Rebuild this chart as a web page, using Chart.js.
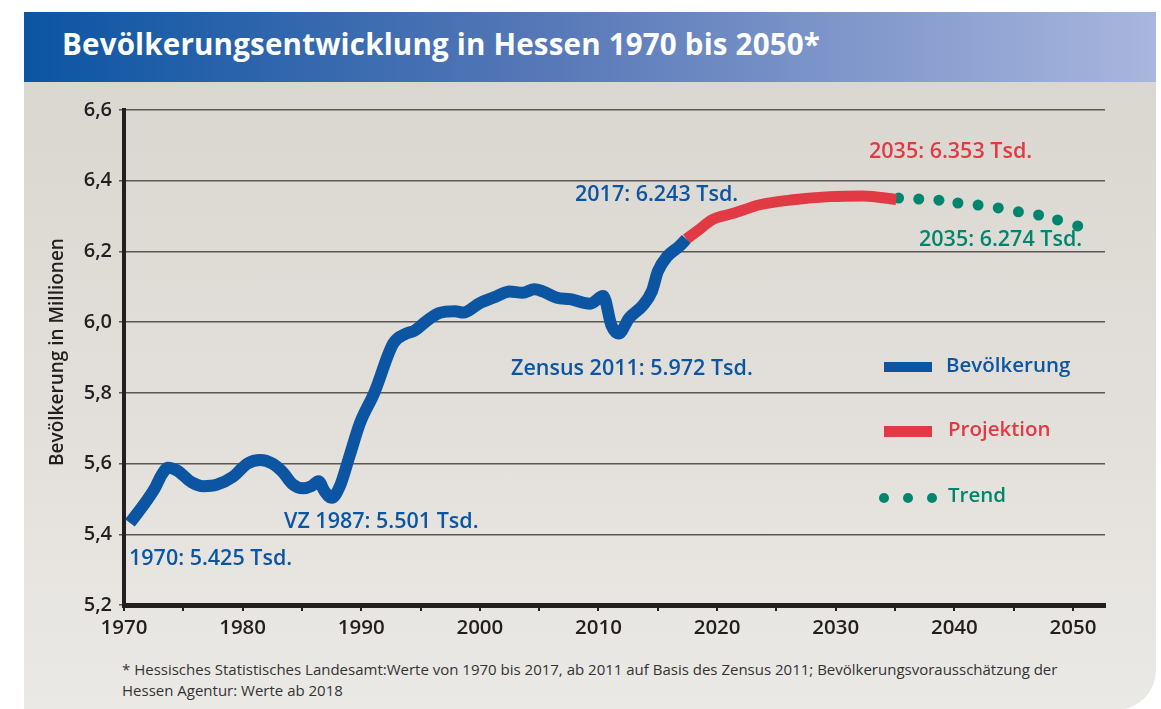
<!DOCTYPE html>
<html lang="de">
<head>
<meta charset="UTF-8">
<title>Bevölkerungsentwicklung in Hessen 1970 bis 2050</title>
<script src="https://cdn.jsdelivr.net/npm/chart.js"></script>
<style>
  html, body { margin: 0; padding: 0; background: #fff; }
  body { width: 1161px; height: 709px; position: relative; overflow: hidden; font-family: "Open Sans", sans-serif; }
  .panel {
    position: absolute; left: 24px; top: 82px; width: 1132px; height: 628px;
    background: linear-gradient(to bottom, #dad6d0 0%, #e4e1dc 60%, #ebe9e6 100%);
    border-bottom-right-radius: 40px;
  }
  .banner {
    position: absolute; left: 24px; top: 12px; width: 1132px; height: 70px;
    background: linear-gradient(to right, #0b55a3 0%, #5577b7 45%, #a9b6de 100%);
  }
  .banner h1 {
    margin: 0; position: absolute; left: 38px; top: 11px;
    color: #fff; font-size: 29.5px; font-weight: 700; letter-spacing: 0.2px;
  }
  .note {
    position: absolute; left: 122px; top: 659px; width: 1000px;
    font-size: 15px; line-height: 21px; color: #333;
  }
  #wrap { position: absolute; left: 0; top: 0; width: 1161px; height: 709px; }
</style>
</head>
<body>
<div class="panel"></div>
<div class="banner"><h1>Bevölkerungsentwicklung in Hessen 1970 bis 2050*</h1></div>
<div class="note">* Hessisches Statistisches Landesamt:Werte von 1970 bis 2017, ab 2011 auf Basis des Zensus 2011; Bevölkerungsvorausschätzung der<br>Hessen Agentur: Werte ab 2018</div>
<div id="wrap"><canvas id="chart" width="1161" height="709"></canvas></div>

<script>
// Bevölkerung (Mio.)
var popYears = [1970.5, 1971.8, 1972.6, 1973.2, 1973.7, 1974.5, 1975.7, 1976.7, 1977.8, 1979.2,
  1980.4, 1981.5, 1982.5, 1983.4, 1984.2, 1985.1, 1985.8, 1986.4, 1986.9, 1987.5,
  1988.2, 1989.0, 1989.9, 1991.1, 1992.7, 1993.8, 1994.5, 1995.5, 1996.6, 1997.9,
  1998.6, 2000.0, 2001.4, 2002.5, 2003.6, 2004.6, 2005.3, 2006.5, 2007.6, 2009.3,
  2010.4, 2011.1, 2011.7, 2012.6, 2013.7, 2014.5, 2015.0, 2015.8, 2016.8, 2017.4];
var popValues = [5.432, 5.49, 5.53, 5.57, 5.588, 5.58, 5.547, 5.536, 5.54, 5.563,
  5.60, 5.61, 5.60, 5.575, 5.542, 5.53, 5.536, 5.55, 5.522, 5.503,
  5.536, 5.62, 5.715, 5.80, 5.94, 5.968, 5.976, 6.003, 6.026, 6.031,
  6.027, 6.054, 6.073, 6.087, 6.083, 6.093, 6.087, 6.069, 6.065, 6.052,
  6.074, 5.99, 5.968, 6.012, 6.046, 6.087, 6.143, 6.186, 6.214, 6.235];

// Projektion
var projYears = [2017.4, 2018.3, 2019.6, 2021.3, 2023.6, 2026.4, 2029.5, 2032.3, 2035.1];
var projValues = [6.235, 6.257, 6.29, 6.307, 6.332, 6.346, 6.355, 6.357, 6.347];

// Trend
var trendYears = [2035.3, 2037.0, 2038.7, 2040.3, 2042.0, 2043.7, 2045.4, 2047.1, 2048.7, 2050.4];
var trendValues = [6.351, 6.348, 6.345, 6.337, 6.331, 6.323, 6.312, 6.303, 6.289, 6.272];

var yTicks = [5.2, 5.4, 5.6, 5.8, 6.0, 6.2, 6.4, 6.6];

var BLUE = '#0b55a3', RED = '#e23a44', GREEN = '#00866e', DARK = '#231f20';
var FONT = '"Open Sans", sans-serif';

function pairs(xs, ys) {
  return xs.map(function (x, i) { return { x: x, y: ys[i] }; });
}

// labels, axis title and the legend box inside the plot
var notes = {
  id: 'notes',
  afterDatasetsDraw: function (chart) {
    var c = chart.ctx;
    c.save();
    c.textBaseline = 'middle';
    function t(s, x, y, col) { c.fillStyle = col; c.fillText(s, x, y); }
    c.font = '600 21.5px ' + FONT;
    t('1970: 5.425 Tsd.', 129, 559, BLUE);
    t('VZ 1987: 5.501 Tsd.', 284, 522, BLUE);
    t('Zensus 2011: 5.972 Tsd.', 511, 369, BLUE);
    t('2017: 6.243 Tsd.', 575, 195, BLUE);
    t('2035: 6.353 Tsd.', 869, 152, RED);
    t('2035: 6.274 Tsd.', 919, 240, GREEN);

    // legend
    c.font = '600 20.5px ' + FONT;
    c.fillStyle = BLUE; c.fillRect(884, 362, 48, 10);
    c.fillStyle = RED; c.fillRect(884, 426, 48, 11);
    c.fillStyle = GREEN;
    [884, 908, 932].forEach(function (x) {
      c.beginPath(); c.arc(x, 498, 5, 0, Math.PI * 2); c.fill();
    });
    t('Bevölkerung', 946, 366, BLUE);
    t('Projektion', 948, 430, RED);
    t('Trend', 948, 496, GREEN);

    // y axis title
    c.translate(58, 352);
    c.rotate(-Math.PI / 2);
    c.textAlign = 'center';
    c.font = '600 19px ' + FONT;
    t('Bevölkerung in Millionen', 0, 0, DARK);
    c.restore();
  }
};

var ctx = document.getElementById('chart').getContext('2d');
var myChart = new Chart(ctx, {
  type: 'line',
  data: {
    datasets: [
      {
        label: 'Bevölkerung',
        data: pairs(popYears, popValues),
        borderColor: BLUE, borderWidth: 12,
        pointRadius: 0, cubicInterpolationMode: 'monotone',
        borderJoinStyle: 'round', borderCapStyle: 'butt'
      },
      {
        label: 'Projektion',
        data: pairs(projYears, projValues),
        borderColor: RED, borderWidth: 11,
        pointRadius: 0, cubicInterpolationMode: 'monotone',
        borderJoinStyle: 'round', borderCapStyle: 'butt'
      },
      {
        label: 'Trend',
        data: pairs(trendYears, trendValues),
        showLine: false,
        pointRadius: 5.5, pointBackgroundColor: GREEN, pointBorderWidth: 0
      }
    ]
  },
  options: {
    responsive: false,
    animation: false,
    events: [],
    layout: { padding: { left: 0, top: 110, right: 56, bottom: 64 } },
    plugins: { legend: { display: false }, tooltip: { enabled: false } },
    scales: {
      x: {
        type: 'linear', min: 1970, max: 2052.7,
        afterFit: function (s) { s.height = 40; },
        grid: { drawOnChartArea: false, drawTicks: true, tickLength: 6, tickColor: DARK, lineWidth: 2 },
        border: { display: true, color: DARK, width: 5 },
        ticks: {
          stepSize: 5, includeBounds: false, padding: 5, maxRotation: 0, autoSkip: false,
          color: DARK, font: { family: FONT, size: 20.5, weight: '600' },
          callback: function (v) { return v % 10 === 0 ? String(v) : ''; }
        }
      },
      y: {
        min: 5.2, max: 6.6,
        afterFit: function (s) { s.width = 124; },
        afterBuildTicks: function (s) { s.ticks = yTicks.map(function (v) { return { value: v }; }); },
        grid: { color: '#5b5755', lineWidth: 1.5, tickLength: 5, tickColor: '#5b5755' },
        border: { display: true, color: DARK, width: 4 },
        ticks: {
          padding: 7, color: DARK, font: { family: FONT, size: 20, weight: '600' },
          callback: function (v) { return v.toFixed(1).replace('.', ','); }
        }
      }
    }
  },
  plugins: [notes]
});
</script>
</body>
</html>
